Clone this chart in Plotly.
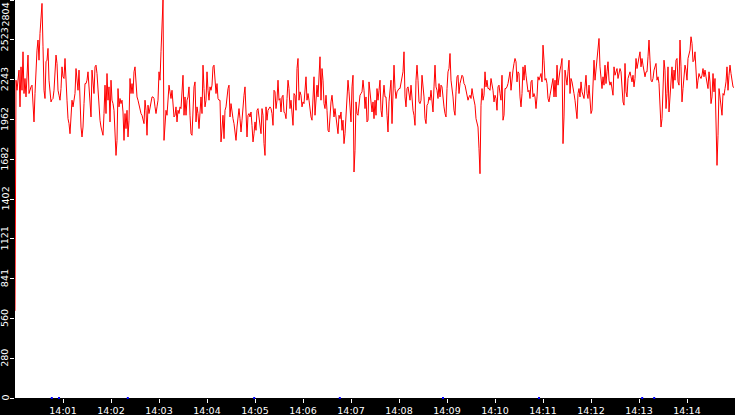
import pandas as pd
import plotly.graph_objects as go

# readings, one per screen pixel (1.25 s), split by stretch of the chart
rate_a = [614, 2239, 2168, 2263, 2310, 2051, 2333, 2168, 2439, 2145,
          2251, 2121, 2286, 2416, 2145, 2180, 2192, 2204, 2004, 1945,
          2145, 2321, 2451, 2522, 2380, 2569, 2710, 2780, 2474, 2168,
          2110, 2369, 2380, 2463, 2239, 2121, 2086, 2103, 2110, 2168,
          2321, 2416, 2357, 2168, 2133, 2098, 2180, 2333, 2263, 2251,
          2392, 2192, 2098, 1968, 1933, 1862, 1980, 2098, 2051, 2110,
          2145, 2321, 2215, 2168, 2310, 2004, 1909, 1839, 1909, 2074,
          2215, 2215, 2239, 2298, 2168, 2027, 1980, 2310, 2215, 2145,
          2333, 2345, 2286, 2168, 2051, 1957, 1909, 1874, 1851, 2004]
rate_b = [2204, 2004, 2286, 2098, 2192, 1945, 2239, 2098, 2074, 2027,
          1815, 1709, 1815, 2180, 2051, 2110, 2074, 2098, 2015, 1815,
          2004, 1898, 2027, 1839, 1957, 2251, 2145, 2215, 2145, 2298,
          2333, 2227, 2121, 2098, 2063, 2039, 2004, 1992, 1957, 1933,
          2098, 2027, 1851, 2063, 2004, 2051, 2086, 2121, 2121, 2110,
          2051, 2004, 2051, 2098, 2298, 2239, 2439, 2616, 2804, 1815,
          1909, 2027, 1992, 2098, 2204, 2157, 2110, 2168, 2098, 1980,
          1992, 2051, 1945, 2027, 2004, 2051, 2039, 2168, 2274, 1992,
          2121, 1992, 2098, 2121, 2192, 1992, 1862, 1851, 2121, 2192]
rate_c = [2227, 1945, 2051, 2004, 1898, 2051, 2121, 2004, 2345, 2180,
          2051, 2098, 2298, 2168, 2098, 2192, 2168, 2204, 2333, 2345,
          2239, 2145, 2215, 2110, 2098, 2098, 1804, 1933, 1992, 1827,
          2027, 2051, 2133, 2180, 2204, 1980, 2074, 1992, 1968, 1933,
          1886, 1815, 1909, 1992, 2039, 1968, 1874, 1957, 2063, 2133,
          2192, 2027, 1839, 1992, 2004, 1980, 2015, 1921, 1804, 1862,
          1945, 1886, 2027, 2039, 1980, 1921, 1862, 2039, 1992, 1792,
          1709, 2051, 1957, 2027, 2039, 2051, 2039, 2004, 1921, 2168,
          2157, 2039, 2098, 2239, 2098, 2110, 2015, 2121, 2133, 2015]
rate_d = [2004, 1968, 2110, 2239, 2180, 2039, 2098, 2027, 1921, 2145,
          2133, 2027, 2321, 2392, 2098, 2157, 2133, 2051, 2086, 2074,
          2192, 2263, 2098, 2145, 2098, 2004, 1980, 1957, 2121, 2263,
          1992, 2133, 2204, 2121, 2286, 2404, 2098, 2321, 2239, 2074,
          2039, 2133, 2027, 1886, 1874, 2004, 2086, 2133, 2039, 1980,
          2039, 1968, 1909, 1862, 1992, 1968, 2015, 1886, 1957, 1792,
          1862, 2027, 2145, 2239, 2157, 2074, 1945, 2192, 2274, 1592,
          1745, 2086, 2004, 1992, 2086, 2133, 2145, 2157, 2239, 2168,
          2039, 2121, 1945, 1957, 2227, 2133, 2086, 2015, 2086, 1968]
rate_e = [2098, 1992, 2180, 2098, 2168, 2239, 2027, 1980, 2121, 2204,
          2121, 2121, 1992, 1874, 2086, 2145, 2239, 1933, 2251, 2345,
          2180, 2110, 2157, 2168, 2180, 2180, 2215, 2263, 2298, 2439,
          2121, 2051, 2180, 2192, 2121, 2098, 2204, 2098, 2027, 1992,
          1921, 2239, 2345, 2239, 2086, 2074, 2098, 2274, 2192, 2121,
          1968, 1933, 2063, 2074, 2121, 2098, 2168, 2051, 2015, 2192,
          2345, 2192, 2168, 2110, 2215, 2121, 2204, 2192, 2098, 2051,
          2004, 1980, 2180, 2298, 2321, 2427, 2239, 2192, 2121, 2027,
          1992, 2157, 2263, 2274, 2145, 2215, 2251, 2274, 2263, 2215]
rate_f = [2204, 2168, 2145, 2098, 2121, 2133, 2110, 2180, 2133, 2098,
          2063, 1968, 1921, 1909, 1756, 1580, 2063, 2180, 2098, 2133,
          2298, 2192, 2239, 2180, 2180, 2168, 2251, 2215, 2168, 2086,
          2133, 2110, 2027, 2192, 2204, 2145, 2098, 2274, 1957, 1992,
          2180, 2180, 2192, 2215, 2274, 2298, 2168, 2274, 2310, 2357,
          2392, 2369, 2227, 2298, 2286, 2121, 2051, 2145, 2333, 2239,
          2345, 2274, 2227, 2157, 2168, 2110, 2227, 2239, 2121, 2145,
          2121, 2039, 2121, 2263, 2239, 2263, 2286, 2227, 2486, 2380,
          2239, 2251, 2215, 2110, 2086, 2133, 2168, 2192, 2251, 2121]
rate_g = [2239, 2121, 2345, 2204, 2274, 2310, 2345, 2392, 1792, 1980,
          2310, 2263, 2204, 2298, 2380, 2145, 2251, 2227, 2168, 2145,
          2098, 2027, 1968, 2145, 2180, 2121, 2227, 2157, 2133, 2110,
          2192, 2274, 2145, 2110, 2204, 2098, 2004, 2027, 2215, 2380,
          2239, 2310, 2392, 2463, 2533, 2333, 2239, 2180, 2263, 2204,
          2345, 2215, 2298, 2369, 2239, 2204, 2227, 2192, 2133, 2333,
          2274, 2298, 2321, 2251, 2286, 2321, 2298, 2168, 2086, 2063,
          2357, 2157, 2121, 2251, 2274, 2298, 2263, 2227, 2274, 2192,
          2251, 2392, 2321, 2357, 2416, 2439, 2333, 2392, 2345, 2286]
rate_h = [2263, 2298, 2298, 2404, 2522, 2380, 2239, 2227, 2251, 2310,
          2333, 2357, 2239, 2263, 2215, 2051, 1909, 1968, 2239, 2380,
          2310, 2039, 2145, 2333, 2015, 2145, 2227, 2333, 2180, 2310,
          2239, 2380, 2392, 2227, 2204, 2522, 2333, 2086, 2180, 2263,
          2345, 2310, 2239, 2392, 2439, 2451, 2545, 2498, 2369, 2380,
          2439, 2239, 2180, 2239, 2286, 2263, 2251, 2274, 2321, 2263,
          2310, 2263, 2227, 2180, 2298, 2227, 2074, 2121, 2286, 2157,
          2251, 1839, 1639, 1851, 2180, 2121, 2051, 1992, 2145, 2133,
          2180, 2227, 2333, 2168, 2274, 2345, 2286, 2251, 2192, 2187]

rate = rate_a + rate_b + rate_c + rate_d + rate_e + rate_f + rate_g + rate_h

# little blue event marks along the bottom edge
event_times = ["14:00:46", "14:00:55", "14:02:21", "14:04:59", "14:06:46",
               "14:08:55", "14:10:55", "14:13:04", "14:13:19"]

y_ticks = [0, 280, 560, 841, 1121, 1402, 1682, 1962, 2243, 2523, 2804]
x_ticks = ["14:01", "14:02", "14:03", "14:04", "14:05", "14:06", "14:07",
           "14:08", "14:09", "14:10", "14:11", "14:12", "14:13", "14:14"]

day = "2024-01-01 "
times = pd.date_range(day + "14:00:00", periods=len(rate), freq="1250ms")

fig = go.Figure()
fig.add_trace(go.Scatter(x=times, y=rate, mode="lines",
                         line=dict(color="#ff0000", width=1),
                         hoverinfo="skip"))
fig.add_trace(go.Scatter(x=[day + t for t in event_times],
                         y=[0] * len(event_times), mode="markers",
                         marker=dict(color="#0000ff", size=2, symbol="square"),
                         cliponaxis=False, hoverinfo="skip"))

# rotated y labels drawn as annotations so they sit tight in the 15px strip
yfont = dict(family="DejaVu Sans", size=9.5, color="white")
for v in y_ticks:
    top = v == y_ticks[-1]
    fig.add_annotation(text=str(v), textangle=-90, showarrow=False,
                       xref="paper", yref="paper" if top else "y",
                       x=0, y=1 if top else v,
                       xanchor="right", yanchor="top" if top else "middle",
                       xshift=-4, yshift=-2 if top else 0,
                       borderpad=0, font=yfont)

fig.update_layout(
    width=735, height=415,
    margin=dict(l=15, r=0, t=0, b=17),
    paper_bgcolor="black", plot_bgcolor="white",
    showlegend=False,
    font=dict(family="DejaVu Sans", color="white"),
)
fig.update_xaxes(
    type="date", automargin=False,
    range=[day + "14:00:00", day + "14:15:00"],
    tickvals=[day + t for t in x_ticks], ticktext=x_ticks,
    ticks="outside", ticklen=4, tickcolor="white", tickwidth=1,
    tickfont=dict(size=9.5, color="white"),
    ticklabeloverflow="allow",
    showgrid=False, zeroline=False, showline=False,
)
fig.update_yaxes(
    automargin=False,
    range=[0, 2804],
    tickvals=y_ticks, showticklabels=False,
    ticks="outside", ticklen=4, tickcolor="white", tickwidth=1,
    showgrid=False, zeroline=False, showline=False,
)

# the page body has a default 8px margin; drop it so the chart fills the window
fig.write_html("out.html",
               config={"displayModeBar": False},
               post_script="document.body.style.margin='0';"
                           "document.body.style.background='black';")
